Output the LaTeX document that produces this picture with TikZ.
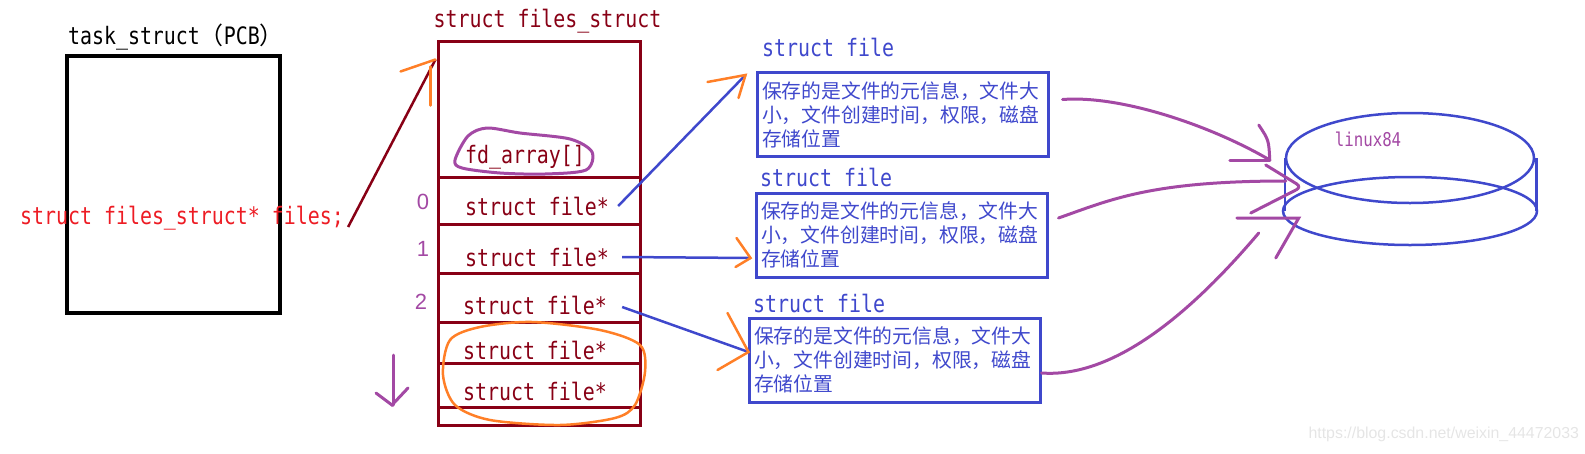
\documentclass[tikz,border=0pt]{standalone}
\usepackage{fontspec}
\setmainfont{Liberation Sans}
\newfontfamily\codefont[FakeStretch=0.83]{DejaVu Sans Mono}
\newfontfamily\cjkfont{Noto Sans CJK SC}
\usepackage{tikz}
\usetikzlibrary{shapes.geometric}
\definecolor{pcbred}{RGB}{237,28,36}
\definecolor{fsmaroon}{RGB}{136,0,21}
\definecolor{fileblue}{RGB}{63,72,204}
\definecolor{markorange}{RGB}{255,127,39}
\definecolor{diskpurple}{RGB}{163,73,164}

\begin{document}
\begin{tikzpicture}[x=1pt, y=-1pt,
  code/.style={font=\codefont\fontsize{24}{26}\selectfont, inner sep=1pt},
  ptr/.style={code, text=fsmaroon},
  cell/.style={draw=fsmaroon, line width=3pt, minimum width=202pt, inner sep=0pt},
  idx/.style={text=diskpurple, font=\fontsize{22}{24}\selectfont},
  fbox/.style={draw=fileblue, line width=3pt, minimum width=291pt, minimum height=84pt,
               inner sep=5pt, text width=281pt, align=left, text=fileblue,
               font=\cjkfont\fontsize{19.8}{24}\selectfont},
  flabel/.style={code, text=fileblue, anchor=west},
  blink/.style={draw=fileblue, line width=2.5pt},
  ohead/.style={draw=markorange, line width=2.5pt, line cap=round},
  plink/.style={draw=diskpurple, line width=3pt, line cap=round},
  disk/.style={draw=fileblue, line width=2.5pt, ellipse, inner sep=0pt}
]
  \useasboundingbox (0,0) rectangle (1585,453);

  % task_struct
  \node[code] (tasktitle) at (176,37) {task\_struct{\cjkfont（}PCB{\cjkfont）}};
  \node[draw, line width=3.3pt, minimum width=213pt, minimum height=257pt, inner sep=0pt] (task) at (173.5,184.5) {};
  \node[code, text=pcbred] (filesptr) at (182,218) {struct files\_struct* files;};

  % files_struct table
  \node[ptr] (fstitle) at (547.5,21) {struct files\_struct};
  \node[cell, minimum height=136pt] (fstop) at (539,109) {};
  \node[cell, minimum height=47pt] (r0) at (539,200.5) {};
  \node[cell, minimum height=49pt] (r1) at (539,248.5) {};
  \node[cell, minimum height=49pt] (r2) at (539,297.5) {};
  \node[cell, minimum height=41pt] (r3) at (539,342.5) {};
  \node[cell, minimum height=44pt] (r4) at (539,385) {};
  \node[cell, minimum height=18pt] (r5) at (539,416) {};
  \node[ptr] (fdarray) at (525,157) {fd\_array[]};
  \node[ptr] (p0) at (537,206) {struct file*};
  \node[ptr] (p1) at (537,257) {struct file*};
  \node[ptr] (p2) at (535,305) {struct file*};
  \node[ptr] (p3) at (535,350) {struct file*};
  \node[ptr] (p4) at (535,391) {struct file*};
  \node[idx] (i0) at (423,202) {0};
  \node[idx] (i1) at (423,249) {1};
  \node[idx] (i2) at (421,302) {2};

  \draw[plink] plot[smooth cycle] coordinates {(455,160) (468,136) (487,128) (520,133) (570,139) (592,152) (586,170) (545,174) (500,173) (462,168)};
  \draw[ohead] plot[smooth cycle] coordinates {(532,322) (600,330) (640,345) (645,372) (635,405) (615,418) (560,425) (490,420) (455,405) (443,375) (450,340) (480,327)};
  \draw[plink] (393,355) -- (393,405);
  \draw[plink] (376,393) -- (392,405) -- (408,388);

  % pointer to files_struct
  \coordinate (tr) at ([shift={(-1,20)}]fstop.north west);
  \draw[fsmaroon, line width=2.5pt] ([shift={(3,9)}]filesptr.east) -- (tr);
  \draw[ohead] ([shift={(-35,12)}]tr) -- (tr);
  \draw[ohead] ([shift={(-5,46)}]tr) -- ([shift={(-5,7)}]tr);

  % struct file boxes
  \node[flabel] (l1) at (761,47) {struct file};
  \node[fbox] (b1) at (902.5,114.5) {保存的是文件的元信息，文件大\\小，文件创建时间，权限，磁盘\\存储位置};
  \node[flabel] (l2) at (759,177) {struct file};
  \node[fbox] (b2) at (901.5,235) {保存的是文件的元信息，文件大\\小，文件创建时间，权限，磁盘\\存储位置};
  \node[flabel] (l3) at (752,303) {struct file};
  \node[fbox] (b3) at (894.5,360) {保存的是文件的元信息，文件大\\小，文件创建时间，权限，磁盘\\存储位置};

  \coordinate (t0) at ([shift={(-10,4)}]b1.north west);
  \coordinate (t1) at ([shift={(-4,23)}]b2.west);
  \coordinate (t2) at ([shift={(1,-8)}]b3.west);
  \draw[blink] ([xshift=8pt]p0.east) -- (t0);
  \draw[blink] ([xshift=12pt]p1.east) -- (t1);
  \draw[blink] ([shift={(14,2)}]p2.east) -- (t2);
  \draw[ohead] ([shift={(-38,7)}]t0) -- (t0) -- ([shift={(-7,23)}]t0);
  \draw[ohead] ([shift={(-14,-20)}]t1) -- (t1) -- ([shift={(-15,9)}]t1);
  \draw[ohead] ([shift={(-21,-39)}]t2) -- (t2) -- ([shift={(-31,18)}]t2);

  % disk
  \node[disk, minimum width=248pt, minimum height=90pt] (disktop) at (1410,158) {};
  \node[disk, minimum width=254pt, minimum height=68pt] (diskbot) at (1410,211) {};
  \draw[blink] (disktop.west) -- (disktop.west |- diskbot.center);
  \draw[blink] ([xshift=1pt]disktop.east) -- ([xshift=1pt]disktop.east |- diskbot.center);
  \node[font=\codefont\fontsize{19}{21}\selectfont, text=diskpurple] (disklabel) at (1368,139) {linux84};

  \coordinate (e1) at ([shift={(-15,2)}]disktop.west);
  \coordinate (e2) at ([shift={(1,23)}]disktop.west);
  \coordinate (e3) at ([shift={(-23,22)}]diskbot.west);
  \draw[plink] ([shift={(13,-15)}]b1.east) .. controls (1120,95) and (1210,125) .. (e1);
  \draw[plink] ([shift={(-11,-35)}]e1) .. controls ([shift={(-1,-20)}]e1) .. (e1);
  \draw[plink] ([shift={(-40,0)}]e1) -- (e1);
  \draw[plink] ([shift={(10,-17)}]b2.east) .. controls (1110,200) and (1150,181) .. (e2);
  \draw[plink, rounded corners=6pt] ([shift={(-20,-16)}]e2) -- ([shift={(16,6)}]e2) -- ([shift={(-35,32)}]e2);
  \draw[plink] ([shift={(0,13)}]b3.east) .. controls (1110,378) and (1185,320) .. (e3);
  \draw[plink] ([shift={(-22,-15)}]e3) -- ([shift={(40,-15)}]e3) -- ([shift={(17,25)}]e3);

  \node[font=\fontsize{15.9}{17}\selectfont, text=black!10, anchor=west] (mark) at (1305,434) {https://blog.csdn.net/weixin\_44472033};
\end{tikzpicture}
\end{document}
